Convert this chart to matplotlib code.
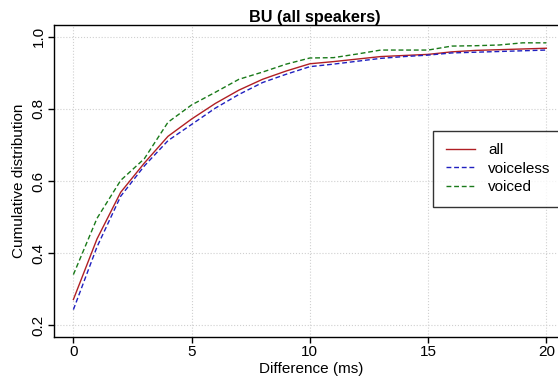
import matplotlib
matplotlib.use("Agg")
import matplotlib.pyplot as plt

plt.rcParams['font.family'] = ['Liberation Sans', 'DejaVu Sans']

# difference in ms
diff_ms = [0, 1, 2, 3, 4, 5, 6, 7, 8, 9, 10, 11, 12, 13, 14, 15, 16, 17, 18, 19, 20]

cdf_all = [0.272, 0.440, 0.569, 0.650, 0.724, 0.772, 0.815, 0.852, 0.882, 0.905, 0.925,
           0.931, 0.938, 0.945, 0.948, 0.951, 0.958, 0.962, 0.964, 0.966, 0.968]
cdf_voiceless = [0.244, 0.418, 0.558, 0.642, 0.712, 0.757, 0.802, 0.840, 0.873, 0.896, 0.917,
                 0.924, 0.932, 0.940, 0.945, 0.949, 0.955, 0.957, 0.959, 0.961, 0.963]
cdf_voiced = [0.341, 0.497, 0.602, 0.662, 0.763, 0.811, 0.846, 0.882, 0.902, 0.924, 0.941,
              0.942, 0.952, 0.963, 0.963, 0.963, 0.974, 0.975, 0.977, 0.983, 0.983]

fig = plt.figure(figsize=(5.58, 3.81), dpi=100)
ax = fig.add_axes([54/558, (381-337.3)/381, 513.6/558, (337.3-25)/381])

ax.plot(diff_ms, cdf_all, color='#b01f24', lw=1.0, label='all')
ax.plot(diff_ms, cdf_voiceless, color='#2020c0', lw=1.0, ls=(0, (3.5, 2)), label='voiceless')
ax.plot(diff_ms, cdf_voiced, color='#1a7a1a', lw=1.0, ls=(0, (3.5, 2)), label='voiced')

ax.set_xlim(-0.82, 20.9)
ax.set_ylim(0.1673, 1.0324)
ax.set_xticks([0, 5, 10, 15, 20])
ax.set_yticks([0.2, 0.4, 0.6, 0.8, 1.0])
ax.set_yticklabels(['0.2', '0.4', '0.6', '0.8', '1.0'], rotation=90, va='center')
ax.tick_params(labelsize=11, length=4, width=1)
ax.tick_params(axis='x', pad=1.5)
ax.tick_params(axis='y', pad=2)
ax.grid(True, color='#d0d0d0', ls=':', lw=0.8)
for s in ax.spines.values():
    s.set_linewidth(1.0)

ax.set_xlabel('Difference (ms)', fontsize=11, labelpad=2)
ax.set_ylabel('Cumulative distribution', fontsize=11, labelpad=4)
fig.text(315/558, 1 - 21.7/381, 'BU (all speakers)', fontsize=11.7, fontweight='bold',
         ha='center', va='baseline')

leg = ax.legend(loc='upper left', bbox_to_anchor=((433.3-54)/513.6, (337.3-131)/312.3),
                fontsize=11, frameon=True, fancybox=False, edgecolor='black',
                borderpad=0.8, labelspacing=0.3, handlelength=1.9, handletextpad=0.9,
                borderaxespad=0)
leg.get_frame().set_linewidth(1.0)

fig.savefig('out.png', dpi=100)
